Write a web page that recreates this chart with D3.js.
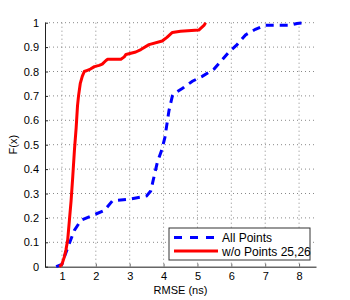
<!DOCTYPE html>
<html>
<head>
<meta charset="utf-8">
<script src="https://cdn.jsdelivr.net/npm/d3@7"></script>
<style>
  body { margin: 0; background: #fff; }
  svg { font-family: "Liberation Sans", Arial, sans-serif; }
</style>
</head>
<body>
<svg id="chart" width="350" height="300"></svg>
<script>
// datos
var redX = [0.93, 1.0, 1.07, 1.12, 1.17, 1.22, 1.27, 1.32, 1.37, 1.42, 1.46, 1.49, 1.54, 1.6, 1.66, 1.75, 1.84, 1.96, 2.1, 2.19, 2.3, 2.35, 2.74, 2.84, 2.89, 3.18, 3.33, 3.57, 3.96, 4.1, 4.26, 4.5, 5.04, 5.12, 5.2, 5.24];
var redF = [0, 0.01, 0.04, 0.07, 0.11, 0.19, 0.27, 0.37, 0.48, 0.57, 0.66, 0.70, 0.75, 0.78, 0.80, 0.805, 0.81, 0.82, 0.825, 0.83, 0.845, 0.85, 0.85, 0.86, 0.87, 0.88, 0.89, 0.91, 0.925, 0.94, 0.96, 0.965, 0.97, 0.98, 0.99, 1.0];
var blueX = [0.83, 1.0, 1.07, 1.22, 1.37, 1.56, 1.9, 2.25, 2.49, 2.94, 3.33, 3.5, 3.62, 3.72, 3.82, 3.95, 4.04, 4.16, 4.26, 4.31, 4.55, 4.85, 5.14, 5.49, 5.68, 5.93, 6.17, 6.42, 6.71, 7.0, 7.74, 7.94, 8.18];
var blueF = [0, 0.01, 0.04, 0.096, 0.15, 0.19, 0.21, 0.23, 0.27, 0.276, 0.285, 0.29, 0.31, 0.37, 0.43, 0.48, 0.53, 0.64, 0.70, 0.71, 0.73, 0.76, 0.78, 0.81, 0.84, 0.88, 0.91, 0.95, 0.973, 0.99, 0.99, 0.997, 1.0];
var xTicks = [1, 2, 3, 4, 5, 6, 7, 8];
var yTicks = [0, 0.1, 0.2, 0.3, 0.4, 0.5, 0.6, 0.7, 0.8, 0.9, 1];
var seriesNames = ["All Points", "w/o Points 25,26"];

var svg = d3.select("#chart");
var pLeft = 45, pRight = 316, pTop = 22.7, pBottom = 266.7;

var x = d3.scaleLinear().domain([0.5, 8.5]).range([pLeft, pRight]);
var y = d3.scaleLinear().domain([0, 1]).range([pBottom, pTop]);

// rejilla punteada
svg.append("g").selectAll("line").data(xTicks).enter().append("line")
  .attr("x1", function(d) { return x(d); }).attr("x2", function(d) { return x(d); })
  .attr("y1", pTop).attr("y2", pBottom)
  .attr("stroke", "#888").attr("stroke-width", 1).attr("stroke-dasharray", "1,3");
svg.append("g").selectAll("line").data(yTicks.slice(1)).enter().append("line")
  .attr("x1", pLeft).attr("x2", pRight)
  .attr("y1", function(d) { return y(d); }).attr("y2", function(d) { return y(d); })
  .attr("stroke", "#888").attr("stroke-width", 1).attr("stroke-dasharray", "1,3");

// ejes
var xAxis = d3.axisBottom(x).tickValues(xTicks).tickSizeInner(-3).tickSizeOuter(0).tickPadding(6);
var gx = svg.append("g").attr("transform", "translate(0," + pBottom + ")").call(xAxis);
gx.select(".domain").attr("stroke", "#666").attr("stroke-width", 1.5);
gx.selectAll(".tick line").attr("stroke", "#666");
gx.selectAll("text").attr("font-size", 11).attr("fill", "#000");

var yAxis = d3.axisLeft(y).tickValues(yTicks).tickSizeInner(-3).tickSizeOuter(0).tickPadding(6)
  .tickFormat(function(d) { return d === 0 || d === 1 ? d : d3.format(".1f")(d); });
var gy = svg.append("g").attr("transform", "translate(" + pLeft + ",0)").call(yAxis);
gy.select(".domain").attr("stroke", "#222").attr("stroke-width", 1);
gy.selectAll(".tick line").attr("stroke", "#222");
gy.selectAll("text").attr("font-size", 11).attr("fill", "#000");

// curvas
var line = d3.line()
  .x(function(d) { return x(d[0]); })
  .y(function(d) { return y(d[1]); });

svg.append("path").datum(d3.zip(blueX, blueF))
  .attr("d", line).attr("fill", "none").attr("stroke", "#0000ff")
  .attr("stroke-width", 3).attr("stroke-dasharray", "8,6");
svg.append("path").datum(d3.zip(redX, redF))
  .attr("d", line).attr("fill", "none").attr("stroke", "#ff0000")
  .attr("stroke-width", 3).attr("stroke-linejoin", "round");

// titulos
svg.append("text").attr("x", (pLeft + pRight) / 2).attr("y", 294)
  .attr("text-anchor", "middle").attr("font-size", 11).text("RMSE (ns)");
svg.append("text").attr("transform", "translate(17," + ((pTop + pBottom) / 2) + ") rotate(-90)")
  .attr("text-anchor", "middle").attr("font-size", 11).text("F(x)");

// leyenda
var lg = svg.append("g");
lg.append("rect").attr("x", 169).attr("y", 228).attr("width", 141).attr("height", 32)
  .attr("fill", "#fff").attr("stroke", "#333").attr("stroke-width", 1);
lg.append("line").attr("x1", 174).attr("x2", 218).attr("y1", 237.5).attr("y2", 237.5)
  .attr("stroke", "#0000ff").attr("stroke-width", 3).attr("stroke-dasharray", "8,8");
lg.append("line").attr("x1", 174).attr("x2", 218).attr("y1", 251).attr("y2", 251)
  .attr("stroke", "#ff0000").attr("stroke-width", 3);
lg.selectAll("text").data(seriesNames).enter().append("text")
  .attr("x", 222).attr("y", function(d, i) { return 241.5 + i * 14; })
  .attr("font-size", 12).text(function(d) { return d; });
</script>
</body>
</html>
